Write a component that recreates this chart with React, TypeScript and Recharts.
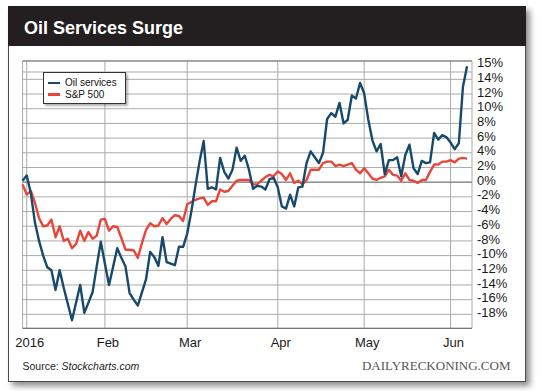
import React from "react";
import {
  LineChart,
  Line,
  XAxis,
  YAxis,
  CartesianGrid,
  ReferenceLine,
} from "recharts";

// daily % change since Dec 31 2015 (index 0 = Dec 31)
const oilServices = [
  0.2, 0.9, -1.5, -5.5, -8.0, -10.0, -11.6, -12.0, -14.7, -12.0,
  -14.4, -16.6, -18.8, -16.4, -14.0, -17.8, -16.4, -15.0, -11.5, -8.1,
  -11.1, -14.0, -11.5, -9.0, -10.3, -11.5, -15.1, -16.0, -16.8, -15.0,
  -13.2, -9.5, -10.2, -11.4, -7.5, -10.9, -11.1, -11.3, -8.8, -8.8,
  -7.0, -4.0, -0.5, 2.8, 5.6, -0.9, -0.7, -1.0, 3.3, 1.4,
  0.5, 1.7, 4.7, 2.9, 3.6, 1.7, -0.9, -0.5, -0.6, -1.0,
  0.4, 0.6, -0.7, -3.3, -3.6, -1.7, -3.3, -0.7, -0.6, 2.6,
  4.2, 3.4, 2.6, 4.0, 8.6, 9.4, 8.9, 10.8, 8.0, 8.5,
  11.8, 11.4, 13.5, 12.1, 8.5, 5.7, 4.2, 5.2, 1.1, 3.0,
  3.0, 3.4, 0.8, 3.7, 5.1, 1.9, 1.1, 2.9, 2.6, 2.7,
  6.7, 5.8, 6.4, 6.1, 5.4, 4.5, 5.3, 13.0, 15.8,
];

const sp500 = [
  -0.3, -1.7, -1.2, -2.8, -4.9, -6.0, -5.9, -5.1, -7.5, -6.0,
  -8.0, -7.7, -9.0, -8.4, -6.6, -8.0, -6.8, -7.7, -7.3, -5.1,
  -5.0, -6.6, -6.0, -6.1, -7.6, -9.2, -9.2, -9.3, -10.3, -8.3,
  -6.5, -5.6, -6.0, -5.9, -4.9, -5.7, -5.0, -4.5, -4.6, -5.3,
  -3.0, -2.7, -2.4, -2.2, -2.1, -3.1, -2.6, -2.6, -1.0, -1.3,
  -1.2, -0.5, 0.2, 0.3, 0.3, 0.3, -0.3, -0.3, 0.2, 0.7,
  1.0, 0.8, 1.45, 1.1, 0.3, 1.2, -0.1, 0.2, -0.3, 0.3,
  1.7, 1.7, 1.7, 2.6, 2.8, 2.8, 2.2, 2.4, 2.2, 2.4,
  2.6, 1.7, 1.2, 1.9, 1.2, 0.5, 0.3, 0.6, 0.8, 1.7,
  1.0, 0.9, 0.2, 1.2, 0.3, 0.2, -0.1, 0.3, 0.3, 1.4,
  2.4, 2.4, 2.8, 2.8, 3.0, 2.7, 3.2, 3.3, 3.2,
];

// first trading day of each month, as day index
const monthTicks = [1, 20, 40, 62, 83, 104];
const monthLabels = ["2016", "Feb", "Mar", "Apr", "May", "Jun"];

const yTicks = [-18, -16, -14, -12, -10, -8, -6, -4, -2, 0, 2, 4, 6, 8, 10, 12, 14, 15];
const yMin = -19.9;
const yMax = 16.5;

const seriesNames = ["Oil services", "S&P 500"];
const BLUE = "#174a6a";
const RED = "#e8463a";
const FONT = "'Liberation Sans', Arial, Helvetica, sans-serif";

const data = oilServices.map((v, i) => ({ idx: i, oil: v, spx: sp500[i] }));

const XTick = (props: any) => {
  const { x, y, payload } = props;
  const label = monthLabels[monthTicks.indexOf(payload.value)];
  return (
    <text x={x + 3} y={y} dy="0.71em" textAnchor="middle" fontSize={13} fontFamily={FONT} fill="#1a1a1a">
      {label}
    </text>
  );
};

const YTick = (props: any) => {
  const { x, y, payload } = props;
  // the 15% label sits right above 14%, lift it clear
  const shift = payload.value === 15 ? -10 : -2;
  return (
    <text x={x} y={y + shift} dy="0.355em" textAnchor="start" fontSize={13} fontFamily={FONT} fill="#1a1a1a">
      {payload.value}%
    </text>
  );
};

export default function App() {
  return (
    <div style={{ position: "absolute", left: 0, top: 0, width: 540, height: 391, fontFamily: FONT }}>
      {/* card */}
      <div
        style={{
          position: "absolute",
          left: 8,
          top: 6,
          width: 518,
          height: 376,
          boxSizing: "border-box",
          border: "1px solid #4a4a4a",
          background: "#fff",
          boxShadow: "4px 4px 6px rgba(0,0,0,0.45)",
        }}
      />
      <div style={{ position: "absolute", left: 8, top: 6, width: 518, height: 40, background: "#231f20" }} />
      <div
        style={{
          position: "absolute",
          left: 24,
          top: 19,
          fontSize: 18,
          lineHeight: "18px",
          fontWeight: "bold",
          color: "#fff",
          whiteSpace: "nowrap",
        }}
      >
        Oil Services Surge
      </div>

      <div style={{ position: "absolute", left: 0, top: 0 }}>
        <LineChart width={540} height={391} data={data} margin={{ top: 61, right: 8, bottom: 32.7, left: 22.6 }}>
          <CartesianGrid stroke="#ababab" strokeWidth={1} />
          <XAxis
            dataKey="idx"
            type="number"
            domain={[0, 109.2]}
            ticks={monthTicks}
            interval={0}
            tick={<XTick />}
            tickLine={false}
            tickSize={0}
            tickMargin={9}
            height={30}
            axisLine={{ stroke: "#666" }}
          />
          <YAxis
            orientation="right"
            type="number"
            domain={[yMin, yMax]}
            ticks={yTicks}
            interval={0}
            tick={<YTick />}
            tickLine={false}
            axisLine={false}
            tickSize={0}
            tickMargin={5}
            width={60}
            allowDataOverflow
          />
          <ReferenceLine y={yMax} stroke="#777" />
          <ReferenceLine y={0} stroke="#777" />
          <Line
            dataKey="spx"
            stroke={RED}
            strokeWidth={2.4}
            dot={false}
            strokeLinejoin="round"
            isAnimationActive={false}
          />
          <Line
            dataKey="oil"
            stroke={BLUE}
            strokeWidth={2.4}
            dot={false}
            strokeLinejoin="round"
            isAnimationActive={false}
          />
        </LineChart>
      </div>

      {/* legend */}
      <div
        style={{
          position: "absolute",
          left: 43,
          top: 72,
          width: 83,
          height: 32,
          boxSizing: "border-box",
          border: "1px solid #333",
          background: "#fff",
          boxShadow: "2px 2px 2px rgba(0,0,0,0.3)",
          padding: "4px 0 0 4px",
        }}
      >
        {seriesNames.map((name, i) => (
          <div key={name} style={{ display: "flex", alignItems: "center", height: 11.5, fontSize: 10, color: "#111" }}>
            <span
              style={{
                display: "inline-block",
                width: 12,
                height: 2.5,
                background: i === 0 ? BLUE : RED,
                marginRight: 5,
              }}
            />
            {name}
          </div>
        ))}
      </div>

      <div style={{ position: "absolute", left: 22.5, top: 360.7, fontSize: 10.5, lineHeight: "11px", color: "#222", whiteSpace: "nowrap" }}>
        Source: <i>Stockcharts.com</i>
      </div>
      <div
        style={{
          position: "absolute",
          left: 300,
          width: 210.5,
          top: 360,
          textAlign: "right",
          fontSize: 13,
          lineHeight: "12px",
          color: "#555",
          fontFamily: "'Liberation Serif', 'Times New Roman', serif",
          whiteSpace: "nowrap",
        }}
      >
        DAILYRECKONING.COM
      </div>
    </div>
  );
}
